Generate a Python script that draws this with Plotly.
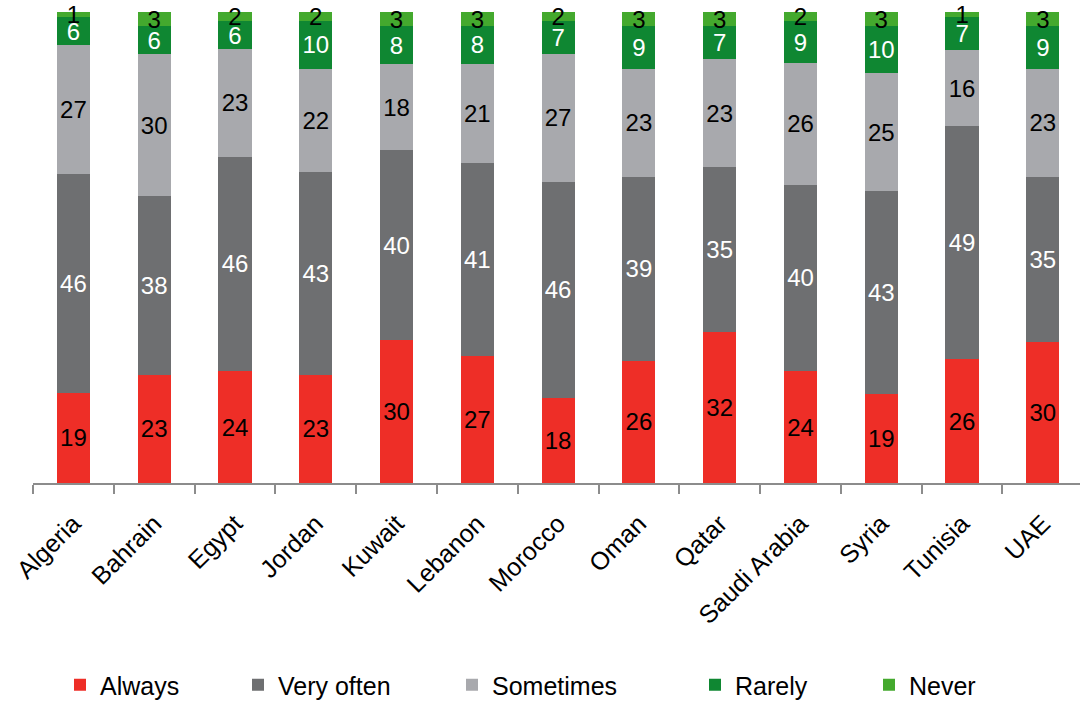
import plotly.graph_objects as go

countries = ["Algeria", "Bahrain", "Egypt", "Jordan", "Kuwait", "Lebanon", "Morocco",
             "Oman", "Qatar", "Saudi Arabia", "Syria", "Tunisia", "UAE"]

always     = [19, 23, 24, 23, 30, 27, 18, 26, 32, 24, 19, 26, 30]
very_often = [46, 38, 46, 43, 40, 41, 46, 39, 35, 40, 43, 49, 35]
sometimes  = [27, 30, 23, 22, 18, 21, 27, 23, 23, 26, 25, 16, 23]
rarely     = [6, 6, 6, 10, 8, 8, 7, 9, 7, 9, 10, 7, 9]
never      = [1, 3, 2, 2, 3, 3, 2, 3, 3, 2, 3, 1, 3]

series = [
    ("Always", always, "#EE2E27", "#000000"),
    ("Very often", very_often, "#6E6F71", "#FFFFFF"),
    ("Sometimes", sometimes, "#A8A9AD", "#000000"),
    ("Rarely", rarely, "#0F8732", "#FFFFFF"),
    ("Never", never, "#44A92E", "#000000"),
]

# left edge (px) of each legend entry along the bottom row
legend_x_px = [60, 238, 452, 695, 869]

FONT = "Liberation Sans, Arial, sans-serif"
W, H = 1080, 701

fig = go.Figure()
for i, (name, vals, color, tcolor) in enumerate(series):
    lg = "legend" if i == 0 else f"legend{i + 1}"
    fig.add_trace(go.Bar(
        x=countries, y=vals, name=name,
        marker=dict(color=color, line=dict(width=0)),
        text=[str(v) for v in vals],
        textposition="inside", insidetextanchor="middle",
        textangle=0, constraintext="none",
        textfont=dict(family=FONT, size=24, color=tcolor),
        cliponaxis=False,
        legend=lg,
        hoverinfo="skip",
    ))

legend_common = dict(
    orientation="h", xref="container", yref="container",
    xanchor="left", yanchor="middle", y=1 - 685 / H,
    font=dict(family=FONT, size=25, color="#000000"),
    bgcolor="rgba(0,0,0,0)", itemwidth=30,
)
layout_legends = {}
for i, px in enumerate(legend_x_px):
    key = "legend" if i == 0 else f"legend{i + 1}"
    layout_legends[key] = dict(legend_common, x=px / W)

fig.update_layout(
    width=W, height=H,
    barmode="stack", barnorm="percent", bargap=0.59,
    plot_bgcolor="white", paper_bgcolor="white",
    margin=dict(l=33, r=0, t=12, b=218),
    showlegend=True,
    xaxis=dict(
        range=[-0.5, 12.46],
        showline=True, linecolor="#8C8C8C", linewidth=2,
        ticks="outside", tickson="boundaries", ticklen=9, tickwidth=2,
        tickcolor="#8C8C8C",
        tickangle=-45, ticklabelstandoff=14,
        tickfont=dict(family=FONT, size=25, color="#000000"),
        showgrid=False, zeroline=False,
    ),
    yaxis=dict(
        range=[0, 100], visible=False, showgrid=False, zeroline=False,
    ),
    **layout_legends,
)

fig.write_html("out.html")
